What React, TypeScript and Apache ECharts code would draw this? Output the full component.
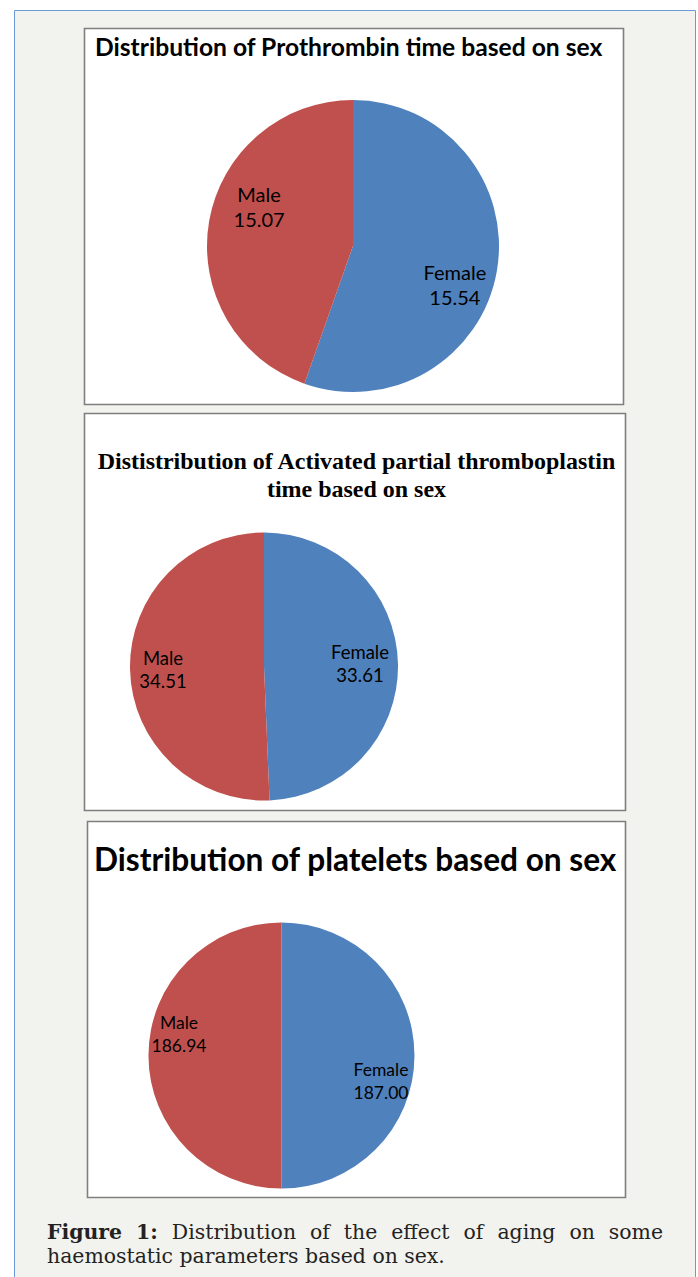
import React, { useEffect, useRef } from "react";
import * as echarts from "echarts";

// ---- Data ----
const sexCategories = ["Female", "Male"];
// Prothrombin time: printed values, and slice shares (%) as drawn in the picture
const ptLabelValues = [15.54, 15.07];
const ptSliceShare = [55.4, 44.6];
// Activated partial thromboplastin time
const apttValues = [33.61, 34.51];
// Platelets
const plateletValues = [187.0, 186.94];
const valueDecimals = 2;

const chartTitles = [
  "Distribution of Prothrombin time based on sex",
  "Dististribution of Activated partial thromboplastin",
  "time based on sex",
  "Distribution of platelets based on sex",
];
const captionLine1Words = ["Figure", "1:", "Distribution", "of", "the", "effect", "of", "aging", "on", "some"];
const captionBoldCount = 2;
const captionLine2 = "haemostatic parameters based on sex.";

// ---- Styles ----
const FEMALE = "#4f81bd";
const MALE = "#c0504d";
const W = 698;
const H = 1277;

function measure(text: string, font: string) {
  const c = document.createElement("canvas");
  const ctx = c.getContext("2d")!;
  ctx.font = font;
  return ctx.measureText(text).width;
}

function fitSize(text: string, fontPrefix: string, family: string, targetWidth: number) {
  return (targetWidth / measure(text, `${fontPrefix}100px ${family}`)) * 100;
}

export default function App() {
  const ref = useRef<HTMLDivElement>(null);
  useEffect(() => {
    if (!ref.current) return;
    const chart = echarts.init(ref.current, null, { renderer: "svg" });

    const sans = '"Lato"';
    const times = '"Liberation Serif"';
    const t1 = Math.min(26, fitSize(chartTitles[0], "bold ", sans, 508));
    const t2 = Math.min(26, fitSize(chartTitles[1], "bold ", times, 519));
    const t3 = Math.min(34, fitSize(chartTitles[3], "bold ", sans, 523));

    // caption layout (justified first line)
    const serif = '"DejaVu Serif"';
    let capFs = fitSize(captionLine2, "", serif, 398);
    capFs = Math.max(14, Math.min(22, capFs));
    const capLeft = 47;
    const capRight = 663;
    const widths = captionLine1Words.map((w, i) =>
      measure(w, `${i < captionBoldCount ? "bold " : ""}${capFs}px ${serif}`)
    );
    const total = widths.reduce((a, b) => a + b, 0);
    const gap = (capRight - capLeft - total) / (captionLine1Words.length - 1);
    let cx = capLeft;
    const capWords: any[] = captionLine1Words.map((w, i) => {
      const el = {
        type: "text",
        x: cx,
        y: 1232,
        z: 10,
        style: {
          text: w,
          font: `${i < captionBoldCount ? "bold " : ""}${capFs}px ${serif}`,
          fill: "#222",
          textAlign: "left",
          textVerticalAlign: "middle",
        },
      };
      cx += widths[i] + gap;
      return el;
    });

    const makeData = (vals: number[]) =>
      sexCategories.map((name, i) => ({
        name,
        value: vals[i],
        itemStyle: { color: i === 0 ? FEMALE : MALE },
      }));

    const labelOffsets = [
      [[27, 26], [-19, -27]],
      [[26, -2], [-31, 2]],
      [[30, 25], [-33, -21]],
    ];

    const pieBase = (center: number[], radius: number, fs: number, lh: number, labelVals: number[]) => ({
      type: "pie",
      center,
      radius,
      startAngle: 90,
      clockwise: true,
      silent: true,
      z: 5,
      emphasis: { disabled: true },
      itemStyle: { borderWidth: 0 },
      label: {
        show: true,
        position: "inside",
        formatter: (p: any) => `${p.name}\n${labelVals[p.dataIndex].toFixed(valueDecimals)}`,
        fontFamily: "Lato",
        fontSize: fs,
        lineHeight: lh,
        color: "#000",
        align: "center",
      },
      labelLine: { show: false },
    });

    const option: any = {
      animation: false,
      graphic: [
        {
          type: "rect",
          z: 0,
          shape: { x: 14.5, y: 10.5, width: 681, height: 1300 },
          style: { fill: "#f2f2ee", stroke: "#6a9ad8", lineWidth: 1 },
        },
        {
          type: "rect",
          z: 1,
          shape: { x: 84.5, y: 28.5, width: 539, height: 376 },
          style: { fill: "#fff", stroke: "#7f7f7f", lineWidth: 1.6 },
        },
        {
          type: "rect",
          z: 1,
          shape: { x: 84.5, y: 413.5, width: 541, height: 397 },
          style: { fill: "#fff", stroke: "#7f7f7f", lineWidth: 1.6 },
        },
        {
          type: "rect",
          z: 1,
          shape: { x: 87.5, y: 821.5, width: 538, height: 376 },
          style: { fill: "#fff", stroke: "#7f7f7f", lineWidth: 1.6 },
        },
        {
          type: "text",
          x: 95,
          y: 46,
          z: 10,
          style: {
            text: chartTitles[0],
            font: `bold ${t1}px ${sans}`,
            fill: "#000",
            textAlign: "left",
            textVerticalAlign: "middle",
          },
        },
        {
          type: "text",
          x: 356.5,
          y: 461,
          z: 10,
          style: {
            text: chartTitles[1],
            font: `bold ${t2}px ${times}`,
            fill: "#000",
            textAlign: "center",
            textVerticalAlign: "middle",
          },
        },
        {
          type: "text",
          x: 356.5,
          y: 489,
          z: 10,
          style: {
            text: chartTitles[2],
            font: `bold ${t2}px ${times}`,
            fill: "#000",
            textAlign: "center",
            textVerticalAlign: "middle",
          },
        },
        {
          type: "text",
          x: 94,
          y: 859,
          z: 10,
          style: {
            text: chartTitles[3],
            font: `bold ${t3}px ${sans}`,
            fill: "#000",
            textAlign: "left",
            textVerticalAlign: "middle",
          },
        },
        ...capWords,
        {
          type: "text",
          x: capLeft,
          y: 1256,
          z: 10,
          style: {
            text: captionLine2,
            font: `${capFs}px ${serif}`,
            fill: "#222",
            textAlign: "left",
            textVerticalAlign: "middle",
          },
        },
      ],
      series: [
        { ...pieBase([353, 246], 146, 20, 25, ptLabelValues), data: makeData(ptSliceShare) },
        { ...pieBase([264, 666.5], 134, 18.5, 23, apttValues), data: makeData(apttValues) },
        { ...pieBase([281.5, 1055.5], 133, 17.5, 23, plateletValues), data: makeData(plateletValues) },
      ],
    };
    option.series.forEach((s: any, si: number) => {
      s.labelLayout = (p: any) => ({
        dx: labelOffsets[si][p.dataIndex][0],
        dy: labelOffsets[si][p.dataIndex][1],
      });
    });
    chart.setOption(option);
    return () => chart.dispose();
  }, []);
  return (
    <div
      ref={ref}
      style={{ position: "absolute", left: 0, top: 0, width: W, height: H }}
    />
  );
}
